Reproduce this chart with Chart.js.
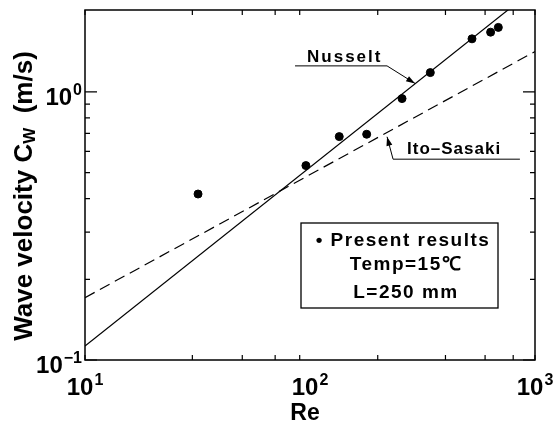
<!DOCTYPE html>
<html>
<head>
<meta charset="utf-8">
<script src="https://cdn.jsdelivr.net/npm/chart.js@4/dist/chart.umd.min.js"></script>
<style>
  html, body { margin: 0; padding: 0; background: #fff; }
</style>
</head>
<body>
<canvas id="chart" width="553" height="427"></canvas>
<script>
// measured points (Re, Cw)
const reData = [31.8, 95.9, 134.9, 178.6, 256.5, 342.6, 524.8, 635, 687];
const cwData = [0.416, 0.531, 0.681, 0.695, 0.944, 1.18, 1.577, 1.67, 1.74];

// correlation lines (end points on log-log axes)
const nusseltRe = [10, 1000];
const nusseltCw = [0.1128, 2.43];
const itoRe = [10, 1000];
const itoCw = [0.1708, 1.414];

// tick positions
const xTicks = [10, 20, 30, 40, 50, 60, 70, 80, 90, 100, 200, 300, 400, 500, 600, 700, 800, 900, 1000];
const yTicks = [0.1, 0.2, 0.3, 0.4, 0.5, 0.6, 0.7, 0.8, 0.9, 1, 2];
const xMajor = [10, 100, 1000];
const xExp = ["1", "2", "3"];
const yMajor = [0.1, 1];
const yExp = ["\u22121", "0"];

const FONT = '"Liberation Sans", Arial, Helvetica, sans-serif';

function toPts(xs, ys) {
    return xs.map((x, i) => ({ x: x, y: ys[i] }));
}

// draws "10" with a superscript exponent, returns nothing
function powerLabel(ctx, exp, x, y, align) {
    ctx.font = "bold 24px " + FONT;
    const wb = ctx.measureText("10").width;
    ctx.font = "bold 16px " + FONT;
    const we = ctx.measureText(exp).width;
    const total = wb + 1 + we;
    let left = x;
    if (align === "center") left = x - total / 2;
    if (align === "right") left = x - total;
    ctx.textAlign = "left";
    ctx.textBaseline = "alphabetic";
    ctx.font = "bold 24px " + FONT;
    ctx.fillText("10", left, y);
    ctx.font = "bold 16px " + FONT;
    ctx.fillText(exp, left + wb + 1, y - 10);
}

function arrowHead(ctx, x0, y0, x1, y1) {
    const ang = Math.atan2(y1 - y0, x1 - x0);
    const len = 9, w = 3;
    ctx.beginPath();
    ctx.moveTo(x1, y1);
    ctx.lineTo(x1 - len * Math.cos(ang) + w * Math.sin(ang), y1 - len * Math.sin(ang) - w * Math.cos(ang));
    ctx.lineTo(x1 - len * Math.cos(ang) - w * Math.sin(ang), y1 - len * Math.sin(ang) + w * Math.cos(ang));
    ctx.closePath();
    ctx.fill();
}

const decorations = {
    id: "decorations",
    afterDraw(chart) {
        const ctx = chart.ctx;
        const a = chart.chartArea;
        const xs = chart.scales.x;
        const ys = chart.scales.y;
        ctx.save();
        ctx.strokeStyle = "#000";
        ctx.fillStyle = "#000";

        // frame
        ctx.lineWidth = 1.5;
        ctx.strokeRect(a.left, a.top, a.right - a.left, a.bottom - a.top);

        // inward ticks
        ctx.lineWidth = 1.2;
        ctx.beginPath();
        xs.ticks.forEach(t => {
            const px = xs.getPixelForValue(t.value);
            ctx.moveTo(px, a.bottom); ctx.lineTo(px, a.bottom - 5);
            ctx.moveTo(px, a.top); ctx.lineTo(px, a.top + 5);
        });
        ys.ticks.forEach(t => {
            const py = ys.getPixelForValue(t.value);
            if (py < a.top + 2) return;
            const len = yMajor.includes(t.value) ? 12 : 5;
            ctx.moveTo(a.left, py); ctx.lineTo(a.left + len, py);
            ctx.moveTo(a.right, py); ctx.lineTo(a.right - len, py);
        });
        ctx.stroke();

        // tick labels
        xMajor.forEach((v, i) => {
            powerLabel(ctx, xExp[i], xs.getPixelForValue(v), a.bottom + 35, "center");
        });
        yMajor.forEach((v, i) => {
            powerLabel(ctx, yExp[i], a.left - 3, ys.getPixelForValue(v) + 13, "right");
        });

        // axis titles
        ctx.font = "bold 23px " + FONT;
        ctx.textAlign = "center";
        ctx.fillText("Re", 305, 420);

        ctx.save();
        ctx.translate(32, 196);
        ctx.rotate(-Math.PI / 2);
        const p1 = "Wave velocity C", p2 = "W", p3 = "  (m/s)";
        ctx.font = "bold 26px " + FONT;
        const w1 = ctx.measureText(p1).width, w3 = ctx.measureText(p3).width;
        ctx.font = "bold 17px " + FONT;
        const w2 = ctx.measureText(p2).width;
        let sx = -(w1 + w2 + w3) / 2;
        ctx.textAlign = "left";
        ctx.font = "bold 26px " + FONT;
        ctx.fillText(p1, sx, 0);
        ctx.font = "bold 17px " + FONT;
        ctx.fillText(p2, sx + w1, 3);
        ctx.font = "bold 26px " + FONT;
        ctx.fillText(p3, sx + w1 + w2, 0);
        ctx.restore();

        // Nusselt label with leader
        const nx0 = xs.getPixelForValue(85.8), nx1 = xs.getPixelForValue(220), ny = ys.getPixelForValue(1.25);
        const ntx = xs.getPixelForValue(293), nty = ys.getPixelForValue(1.075);
        ctx.lineWidth = 1;
        ctx.beginPath();
        ctx.moveTo(nx0, ny); ctx.lineTo(nx1, ny); ctx.lineTo(ntx, nty);
        ctx.stroke();
        arrowHead(ctx, nx1, ny, ntx, nty);
        ctx.font = "bold 17px " + FONT;
        ctx.letterSpacing = "2px";
        ctx.textAlign = "left";
        ctx.fillText("Nusselt", xs.getPixelForValue(97), ys.getPixelForValue(1.297));

        // Ito-Sasaki label with leader
        const ix0 = xs.getPixelForValue(234), ix1 = xs.getPixelForValue(857), iy = ys.getPixelForValue(0.561);
        const itx = xs.getPixelForValue(220), ity = ys.getPixelForValue(0.68);
        ctx.beginPath();
        ctx.moveTo(ix1, iy); ctx.lineTo(ix0, iy); ctx.lineTo(itx, ity);
        ctx.stroke();
        arrowHead(ctx, ix0, iy, itx, ity);
        ctx.letterSpacing = "1px";
        ctx.fillText("Ito\u2013Sasaki", xs.getPixelForValue(270), ys.getPixelForValue(0.586));

        // legend box
        ctx.letterSpacing = "1.5px";
        ctx.lineWidth = 1.3;
        ctx.strokeRect(301, 223, 197, 85);
        ctx.font = "bold 19px " + FONT;
        ctx.textAlign = "center";
        ctx.fillText("\u2022 Present results", 403, 246);
        ctx.fillText("Temp=15\u2103", 406, 270);
        ctx.fillText("L=250 mm", 406, 298);
        ctx.letterSpacing = "0px";
        ctx.restore();
    }
};

const chart = new Chart(document.getElementById("chart").getContext("2d"), {
    type: "scatter",
    data: {
        datasets: [
            {
                label: "Present results",
                data: toPts(reData, cwData),
                showLine: false,
                pointRadius: 4,
                pointBackgroundColor: "#000",
                pointBorderColor: "#000",
            },
            {
                label: "Nusselt",
                data: toPts(nusseltRe, nusseltCw),
                showLine: true,
                pointRadius: 0,
                borderColor: "#000",
                borderWidth: 1.2,
                clip: 0,
            },
            {
                label: "Ito-Sasaki",
                data: toPts(itoRe, itoCw),
                showLine: true,
                pointRadius: 0,
                borderColor: "#000",
                borderWidth: 1.2,
                borderDash: [11, 6],
                clip: 0,
            },
        ],
    },
    options: {
        responsive: false,
        animation: false,
        layout: { padding: { left: 85, right: 18, top: 10, bottom: 67 } },
        plugins: { legend: { display: false }, tooltip: { enabled: false } },
        scales: {
            x: {
                type: "logarithmic",
                display: false,
                min: 10,
                max: 1000,
                afterBuildTicks: (s) => { s.ticks = xTicks.map(v => ({ value: v })); },
            },
            y: {
                type: "logarithmic",
                display: false,
                min: 0.1,
                max: 2.02,
                afterBuildTicks: (s) => { s.ticks = yTicks.map(v => ({ value: v })); },
            },
        },
    },
    plugins: [decorations],
});
</script>
</body>
</html>
